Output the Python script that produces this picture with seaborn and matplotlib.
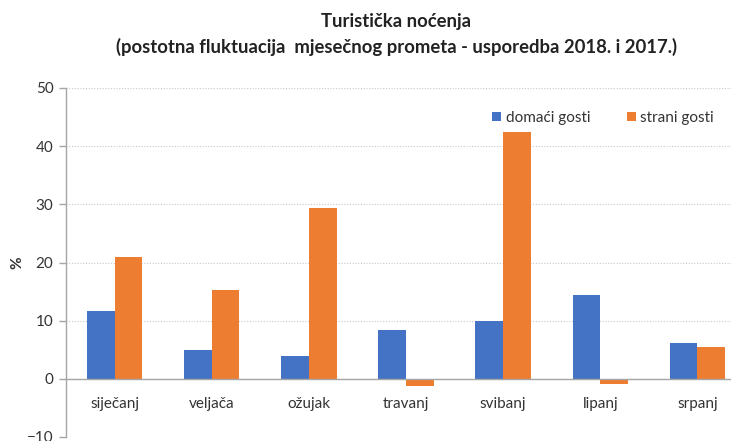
import matplotlib
matplotlib.use("Agg")
import matplotlib.pyplot as plt
import seaborn as sns
import pandas as pd

months = ["siječanj", "veljača", "ožujak", "travanj", "svibanj", "lipanj", "srpanj"]
domaci = [11.6, 4.9, 3.9, 8.4, 9.9, 14.4, 6.1]
strani = [20.9, 15.3, 29.4, -1.2, 42.4, -0.9, 5.5]
series = ["domaći gosti", "strani gosti"]
yticks = [-10, 0, 10, 20, 30, 40, 50]

df = pd.DataFrame({
    "month": months * 2,
    "value": domaci + strani,
    "series": [series[0]] * len(months) + [series[1]] * len(months),
})

sns.set_theme(style="white")
plt.rcParams["font.family"] = ["Lato", "DejaVu Sans"]

fig = plt.figure(figsize=(7.31, 4.41), dpi=100)
ax = fig.add_axes([66 / 731, 4 / 441, 680 / 731, 349 / 441])

sns.barplot(data=df, x="month", y="value", hue="series", order=months,
            hue_order=series, palette=["#4472C4", "#ED7D31"], width=0.57,
            ax=ax, saturation=1, linewidth=0)

ax.set_ylim(-10, 50)
ax.set_xlim(-0.5, 6.5)
ax.set_yticks(yticks)
ax.yaxis.grid(True, linestyle=(0, (1, 1.5)), color="#c8c8c8", linewidth=0.8)
ax.set_axisbelow(True)

for s in ["top", "right"]:
    ax.spines[s].set_visible(False)
ax.spines["left"].set_color("#a6a6a6")
ax.spines["left"].set_linewidth(1.0)
ax.spines["bottom"].set_position(("data", 0))
ax.spines["bottom"].set_color("#a6a6a6")
ax.spines["bottom"].set_linewidth(1.0)

ax.tick_params(axis="y", length=5, color="#a6a6a6", width=1, labelsize=11,
               labelcolor="#333333", pad=4, left=True)
ax.tick_params(axis="x", length=0, labelsize=11, labelcolor="#333333", pad=13)
ax.set_xlabel("")
ax.set_ylabel("%", fontsize=11, fontweight="bold", color="#333333")
ax.yaxis.set_label_coords((17 - 66) / 680, (441 - 263 - 4) / 349)
ax.yaxis.label.set_va("center")

leg = ax.legend(loc="upper left", bbox_to_anchor=(478 / 731, 1 - 97 / 441),
                bbox_transform=fig.transFigure, ncol=2, frameon=False,
                fontsize=11, handlelength=0.6, handleheight=0.6,
                handletextpad=0.3, columnspacing=2.4, labelcolor="#333333")

fig.text(396 / 731, 1 - 22 / 441, "Turistička noćenja", ha="center", va="center",
         fontsize=13.3, fontweight="bold", color="#222222")
fig.text(396 / 731, 1 - 47 / 441,
         "(postotna fluktuacija  mjesečnog prometa - usporedba 2018. i 2017.)",
         ha="center", va="center", fontsize=13.3, fontweight="bold", color="#222222")

fig.savefig("out.png", dpi=100)
